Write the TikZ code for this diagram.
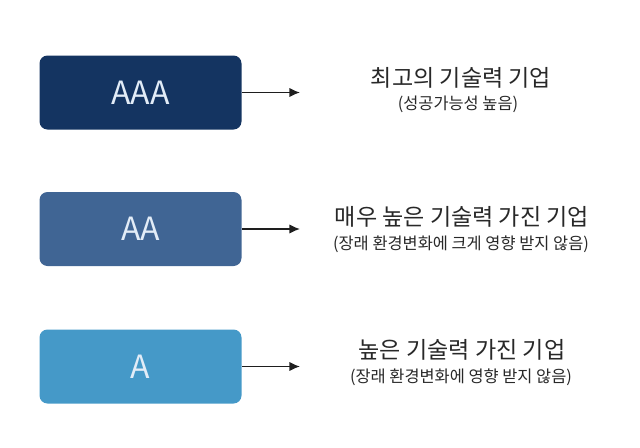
\documentclass[tikz,border=0pt]{standalone}
\usepackage{fontspec}
\setmainfont{Noto Sans CJK KR}
\usetikzlibrary{arrows.meta}

\definecolor{gradeAAA}{RGB}{20,52,97}
\definecolor{gradeAA}{RGB}{64,101,148}
\definecolor{gradeA}{RGB}{69,153,200}
\definecolor{boxtext}{RGB}{226,236,247}
\definecolor{desctext}{RGB}{40,40,40}

\tikzset{
	gradebox/.style={draw=none, rounded corners=6pt, minimum width=151.5pt, minimum height=55.5pt,
		text=boxtext, font=\fontsize{24}{28}\selectfont},
	gradearrow/.style={draw={rgb, 255:red, 30; green, 30; blue, 30}, line width=1pt, -{Latex[length=8pt,width=7pt]}},
	desctitle/.style={text=desctext, font=\fontsize{17.3}{20}\selectfont},
	descsub/.style={text=desctext, font=\fontsize{12.3}{15}\selectfont}}
\tikzset{every picture/.style={line width=0.75pt}}

\begin{document}
\begin{tikzpicture}[x=0.75pt,y=0.75pt,yscale=-1,xscale=1]
	\useasboundingbox (0,0) rectangle (640,447);

	%Shape: Rounded Rectangle [id:aaa]
	\node [gradebox, fill=gradeAAA] (aaa) at (140.5,92.5) {AAA};
	%Shape: Rounded Rectangle [id:aa]
	\node [gradebox, fill=gradeAA] (aa) at (140.5,229) {AA};
	%Shape: Rounded Rectangle [id:a]
	\node [gradebox, fill=gradeA] (a) at (140.5,366.5) {A};

	%Straight Lines
	\coordinate (aaatip) at (300,92.5);
	\coordinate (aatip) at (300,229);
	\coordinate (atip) at (300,366.5);
	\draw [gradearrow] (aaa.east) -- (aaatip);
	\draw [gradearrow] (aa.east) -- (aatip);
	\draw [gradearrow] (a.east) -- (atip);

	% Text Node
	\node [desctitle] (aaatitle) at (461,78) {최고의 기술력 기업};
	% Text Node
	\node [descsub] (aaasub) at (458,104) {(성공가능성 높음)};
	% Text Node
	\node [desctitle] (aatitle) at (462,217) {매우 높은 기술력 가진 기업};
	% Text Node
	\node [descsub] (aasub) at (461,244) {(장래 환경변화에 크게 영향 받지 않음)};
	% Text Node
	\node [desctitle] (atitle) at (462,350) {높은 기술력 가진 기업};
	% Text Node
	\node [descsub] (asub) at (461,377) {(장래 환경변화에 영향 받지 않음)};

\end{tikzpicture}
\end{document}
